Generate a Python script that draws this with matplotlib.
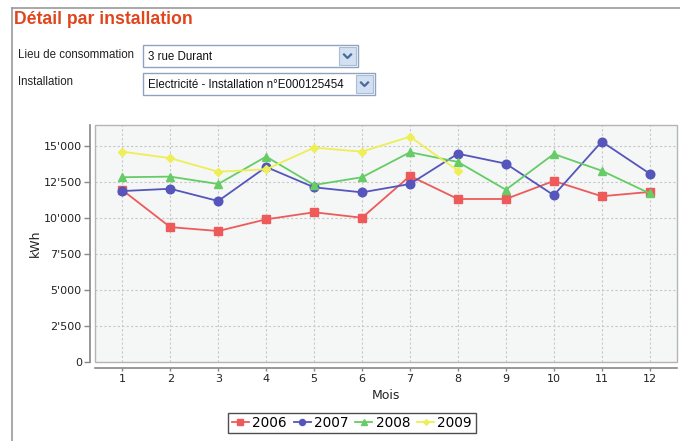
import matplotlib
matplotlib.use("Agg")
import matplotlib.pyplot as plt
from matplotlib.patches import Rectangle
from matplotlib.lines import Line2D
from matplotlib.ticker import FuncFormatter

months = [1, 2, 3, 4, 5, 6, 7, 8, 9, 10, 11, 12]
series_names = ["2006", "2007", "2008", "2009"]
v2006 = [11920, 9350, 9080, 9890, 10380, 10000, 12900, 11300, 11300, 12550, 11490, 11790]
v2007 = [11850, 12010, 11160, 13520, 12110, 11760, 12340, 14440, 13750, 11560, 15280, 13060]
v2008 = [12810, 12850, 12340, 14240, 12270, 12810, 14540, 13870, 11940, 14420, 13260, 11690]
v2009 = [14580, 14130, 13190, 13360, 14860, 14580, 15620, 13260]
yticks = [0, 2500, 5000, 7500, 10000, 12500, 15000]

colors = ["#EE5A5A", "#5555BB", "#66CC66", "#EEEE55"]
markers = ["s", "o", "^", "D"]
msizes = [6, 6.2, 6, 4]

W, H = 680, 441
fig = plt.figure(figsize=(W / 100, H / 100), dpi=100)
fig.patch.set_facecolor("white")

def fx(x):
    return x / W

def fy(y):
    return 1 - y / H

# outer frame lines
fig.add_artist(Line2D([fx(12), fx(12)], [fy(8), fy(441)], color="#999999", lw=1.2))
fig.add_artist(Line2D([fx(12), fx(680)], [fy(8), fy(8)], color="#999999", lw=1.2))

# title
fig.text(fx(14), fy(20), "Détail par installation", fontsize=12.7, fontweight="bold",
         color="#E0461E", family="Liberation Sans", va="center", ha="left")

# form labels
fig.text(fx(18), fy(55), "Lieu de consommation", fontsize=8.3, family="Liberation Sans",
         va="center", ha="left", color="#222222")
fig.text(fx(18), fy(82), "Installation", fontsize=8.3, family="Liberation Sans",
         va="center", ha="left", color="#222222")

def combo(x0, y0, x1, y1, text):
    fig.add_artist(Rectangle((fx(x0), fy(y1)), fx(x1 - x0), (y1 - y0) / H,
                             facecolor="white", edgecolor="#8FA3BF", lw=1.0))
    bx0 = x1 - 19
    fig.add_artist(Rectangle((fx(bx0), fy(y1 - 2)), fx(17), (y1 - y0 - 4) / H,
                             facecolor="#D3E0F1", edgecolor="#A9BDD8", lw=0.8))
    cx, cy = (bx0 + 8.5), (y0 + y1) / 2
    fig.add_artist(Line2D([fx(cx - 3.5), fx(cx), fx(cx + 3.5)],
                          [fy(cy - 1.5), fy(cy + 2), fy(cy - 1.5)],
                          color="#4A6A9A", lw=1.6))
    fig.text(fx(x0 + 5), fy((y0 + y1) / 2 + 1), text, fontsize=8.3,
             family="Liberation Sans", va="center", ha="left", color="#111111")

combo(143, 45, 358, 67, "3 rue Durant")
combo(143, 73, 375, 95, "Electricité - Installation n°E000125454")

# plot area
L, R, T, B = 95, 677, 125, 362
ax = fig.add_axes([fx(L), fy(B), (R - L) / W, (B - T) / H])
ax.set_facecolor("#F5F6F6")

data = [v2006, v2007, v2008, v2009]
for name, vals, c, m, ms in zip(series_names, data, colors, markers, msizes):
    ax.plot(months[:len(vals)], vals, color=c, marker=m, markersize=ms, lw=1.3,
            label=name, markeredgecolor=c, clip_on=False, zorder=3)

ax.set_xlim(0.43, 12.57)
ax.set_ylim(0, 16430)
ax.set_xticks(months)
ax.set_yticks(yticks)
ax.yaxis.set_major_formatter(FuncFormatter(lambda v, p: f"{int(v):,}".replace(",", "'")))
ax.grid(True, color="#C8C8C8", lw=0.8, linestyle=(0, (2, 2)))
ax.set_axisbelow(True)

for s in ["top", "right"]:
    ax.spines[s].set_visible(False)
ax.spines["left"].set_position(("outward", 3.5))
ax.spines["bottom"].set_position(("outward", 4))
for s in ["left", "bottom"]:
    ax.spines[s].set_color("#888888")
    ax.spines[s].set_linewidth(1.2)
ax.add_patch(Rectangle((0, 0), 1, 1, transform=ax.transAxes, fill=False,
                       edgecolor="#B5B5B5", lw=1.0, clip_on=False, zorder=1))

ax.tick_params(axis="y", direction="out", length=4, width=1, color="#888888",
               labelsize=8, pad=2, labelcolor="#222222")
ax.tick_params(axis="x", direction="out", length=2, width=1, color="#888888",
               labelsize=8, pad=3, labelcolor="#222222")
ax.set_xlabel("Mois", fontsize=9, labelpad=3, color="#222222")
ax.set_ylabel("kWh", fontsize=9, labelpad=1, color="#222222")

leg = fig.legend(loc="center", bbox_to_anchor=(fx(352), fy(423)), ncol=4,
                 fontsize=9.8, frameon=True, fancybox=False, handlelength=1.25,
                 handletextpad=0.25, columnspacing=0.5, borderpad=0.25,
                 borderaxespad=0, markerscale=0.7)
leg.get_frame().set_edgecolor("#222222")
leg.get_frame().set_linewidth(1.0)

fig.savefig("out.png", dpi=100)
